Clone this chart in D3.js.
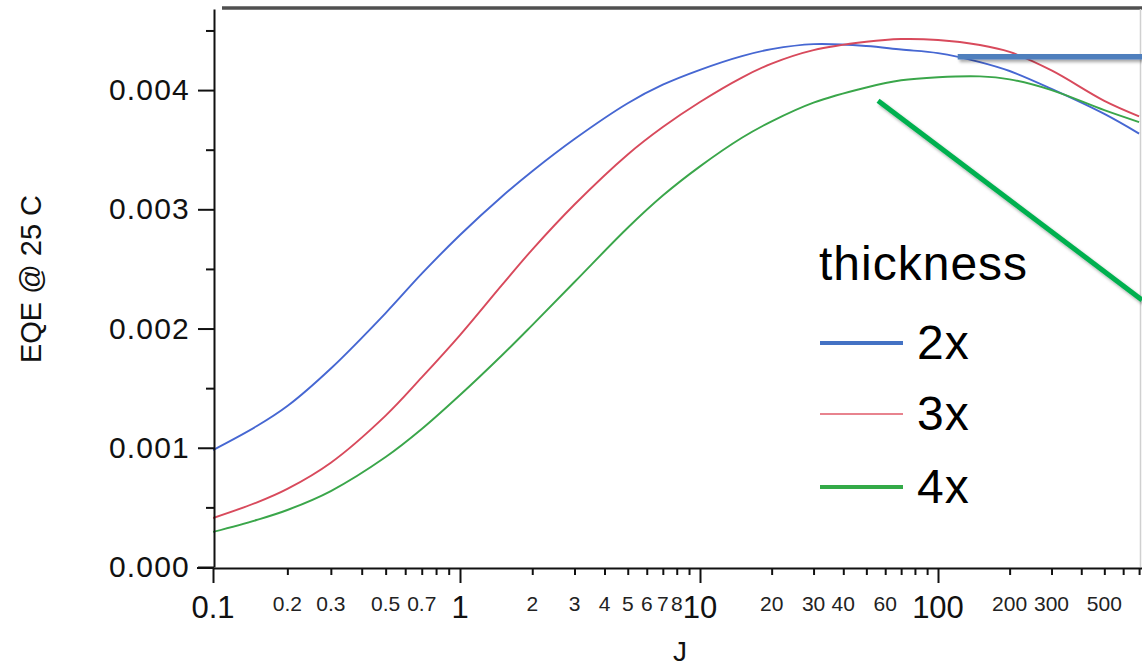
<!DOCTYPE html>
<html>
<head>
<meta charset="utf-8">
<script src="https://cdn.jsdelivr.net/npm/d3@7"></script>
<style>
  html, body { margin: 0; padding: 0; background: #ffffff; }
  svg { display: block; font-family: "Liberation Sans", Arial, Helvetica, sans-serif; }
</style>
</head>
<body>
<svg id="chart" width="1142" height="668"></svg>
<script>
// ---------------- data ----------------
const J = [0.1, 0.15, 0.2, 0.3, 0.5, 0.7, 1, 1.5, 2, 3, 5, 7, 10, 15, 20, 30, 50, 70, 100, 150, 200, 300, 500, 700];
const eqe2x = [0.981, 1.18, 1.35, 1.665, 2.13, 2.46, 2.785, 3.11, 3.32, 3.59, 3.89, 4.045, 4.17, 4.285, 4.343, 4.385, 4.37, 4.34, 4.31, 4.235, 4.16, 4.01, 3.80, 3.635].map(v => v / 1000);
const eqe3x = [0.411, 0.54, 0.655, 0.875, 1.27, 1.59, 1.945, 2.368, 2.662, 3.04, 3.46, 3.69, 3.90, 4.105, 4.222, 4.335, 4.405, 4.428, 4.42, 4.378, 4.32, 4.165, 3.91, 3.78].map(v => v / 1000);
const eqe4x = [0.294, 0.394, 0.478, 0.637, 0.922, 1.157, 1.442, 1.778, 2.029, 2.39, 2.845, 3.115, 3.36, 3.60, 3.738, 3.895, 4.022, 4.082, 4.108, 4.115, 4.09, 4.0, 3.832, 3.732].map(v => v / 1000);

const seriesNames = ["2x", "3x", "4x"];
const seriesColors = ["#4667d2", "#d84a5c", "#3aa64a"];
const legendColors = ["#4472c4", "#e05a68", "#33aa48"];
const legendWidths = [4, 1.6, 4];

const yMajorTicks = [0, 0.001, 0.002, 0.003, 0.004];
const yMinorTicks = [0.0005, 0.0015, 0.0025, 0.0035, 0.0045];
const xMajorTicks = [0.1, 1, 10, 100];
const xMinorTicks = [0.2, 0.3, 0.4, 0.5, 0.6, 0.7, 0.8, 0.9,
                     2, 3, 4, 5, 6, 7, 8, 9,
                     20, 30, 40, 50, 60, 70, 80, 90,
                     200, 300, 400, 500, 600, 700];
const xMinorLabels = [0.2, 0.3, 0.5, 0.7, 2, 3, 4, 5, 6, 7, 8, 20, 30, 40, 60, 200, 300, 500];

// callout lines (data coordinates)
const blueCallout = [[121, 0.00428], [720, 0.00428]];
const greenCallout = [[56, 0.00391], [720, 0.00224]];

// ---------------- scales ----------------
const W = 1142, H = 668;
const svg = d3.select("#chart");
const x = d3.scaleLog().domain([0.1, 1, 10, 100, 720]).range([213, 460, 700, 938, 1142]);
const y = d3.scaleLinear().domain([0, 0.00468]).range([567, 9]);

const defs = svg.append("defs");
const sh = defs.append("filter").attr("id", "shadow").attr("filterUnits", "userSpaceOnUse")
  .attr("x", 0).attr("y", 0).attr("width", W).attr("height", H);
sh.append("feDropShadow").attr("dx", 2).attr("dy", 2.5).attr("stdDeviation", 1.5).attr("flood-color", "#000").attr("flood-opacity", 0.35);
defs.append("clipPath").attr("id", "plotclip").append("rect")
  .attr("x", x.range()[0]).attr("y", y.range()[1]).attr("width", x.range()[4] - x.range()[0]).attr("height", y.range()[0] - y.range()[1]);

// frame: top and right border
svg.append("line").attr("x1", 222).attr("x2", W).attr("y1", y.range()[1] - 1).attr("y2", y.range()[1] - 1)
  .attr("stroke", "#505050").attr("stroke-width", 3.5);
svg.append("line").attr("x1", 1140.5).attr("x2", 1140.5).attr("y1", y.range()[1]).attr("y2", y.range()[0])
  .attr("stroke", "#d0d0d0").attr("stroke-width", 1.5);

// ---------------- curves ----------------
const line = d3.line().x(d => x(d[0])).y(d => y(d[1])).curve(d3.curveCatmullRom.alpha(0.5));
const series = [eqe2x, eqe3x, eqe4x];
const gCurves = svg.append("g").attr("clip-path", "url(#plotclip)");
series.forEach((vals, i) => {
  gCurves.append("path")
    .datum(J.map((j, k) => [j, vals[k]]))
    .attr("fill", "none")
    .attr("stroke", seriesColors[i])
    .attr("stroke-width", 1.9)
    .attr("d", line);
});

// ---------------- axes ----------------
const axisColor = "#111";
const gy = svg.append("g").attr("transform", `translate(${x.range()[0] + 1},0)`);
gy.call(d3.axisLeft(y).tickValues(yMajorTicks).tickFormat(d3.format(".3f")).tickSize(16).tickSizeOuter(0).tickPadding(8));
const gyMinor = svg.append("g").attr("transform", `translate(${x.range()[0] + 1},0)`);
gyMinor.call(d3.axisLeft(y).tickValues(yMinorTicks).tickFormat("").tickSize(8).tickSizeOuter(0));
gyMinor.select(".domain").remove();
[gy, gyMinor].forEach(g => {
  g.selectAll("path, line").attr("stroke", axisColor).attr("stroke-width", 2);
});
gy.selectAll("text").attr("font-size", 30).attr("fill", "#111").attr("letter-spacing", 1.2)
  .attr("font-family", "'Liberation Sans', Arial, sans-serif");

const gx = svg.append("g").attr("transform", `translate(0,${y(0) + 1})`);
gx.call(d3.axisBottom(x).tickValues(xMajorTicks).tickFormat("").tickSize(15).tickSizeOuter(0));
const gxMinor = svg.append("g").attr("transform", `translate(0,${y(0) + 1})`);
gxMinor.call(d3.axisBottom(x).tickValues(xMinorTicks).tickFormat("").tickSize(7).tickSizeOuter(0));
gxMinor.select(".domain").remove();
[gx, gxMinor].forEach(g => {
  g.selectAll("path, line").attr("stroke", axisColor).attr("stroke-width", 2);
});
svg.append("line").attr("x1", x.range()[0] - 16).attr("x2", x.range()[0]).attr("y1", y(0) + 1).attr("y2", y(0) + 1)
  .attr("stroke", axisColor).attr("stroke-width", 2);

svg.append("g").selectAll("text").data(xMajorTicks).join("text")
  .attr("x", d => x(d)).attr("y", 618)
  .attr("text-anchor", "middle").attr("font-size", 31).attr("fill", "#111")
  .text(d => String(d));
svg.append("g").selectAll("text").data(xMinorLabels).join("text")
  .attr("x", d => x(d)).attr("y", 611)
  .attr("text-anchor", "middle").attr("font-size", 21).attr("fill", "#222")
  .text(d => String(d));

svg.append("text").attr("x", 680).attr("y", 661).attr("text-anchor", "middle")
  .attr("font-size", 28).attr("fill", "#111").text("J");
svg.append("text").attr("transform", "translate(41,279) rotate(-90)").attr("text-anchor", "middle")
  .attr("font-size", 29).attr("fill", "#111").text("EQE @ 25 C");

// ---------------- legend ----------------
const lg = svg.append("g");
lg.append("text").attr("x", 819).attr("y", 280).attr("font-size", 48).attr("letter-spacing", 1).attr("fill", "#000").text("thickness");
const legendLineY = [343, 414, 487];
seriesNames.forEach((name, i) => {
  lg.append("line").attr("x1", 820).attr("x2", 903).attr("y1", legendLineY[i]).attr("y2", legendLineY[i])
    .attr("stroke", legendColors[i]).attr("stroke-width", legendWidths[i]);
  lg.append("text").attr("x", 917).attr("y", legendLineY[i] + 16).attr("font-size", 48).attr("letter-spacing", 1).attr("fill", "#000").text(name);
});

// ---------------- callout lines ----------------
svg.append("line")
  .attr("x1", x(blueCallout[0][0])).attr("y1", y(blueCallout[0][1]))
  .attr("x2", x(blueCallout[1][0])).attr("y2", y(blueCallout[1][1]))
  .attr("stroke", "#4f7fbd").attr("stroke-width", 5.5).attr("filter", "url(#shadow)");
svg.append("line")
  .attr("x1", x(greenCallout[0][0])).attr("y1", y(greenCallout[0][1]))
  .attr("x2", x(greenCallout[1][0])).attr("y2", y(greenCallout[1][1]))
  .attr("stroke", "#00b04f").attr("stroke-width", 5).attr("filter", "url(#shadow)");
</script>
</body>
</html>
